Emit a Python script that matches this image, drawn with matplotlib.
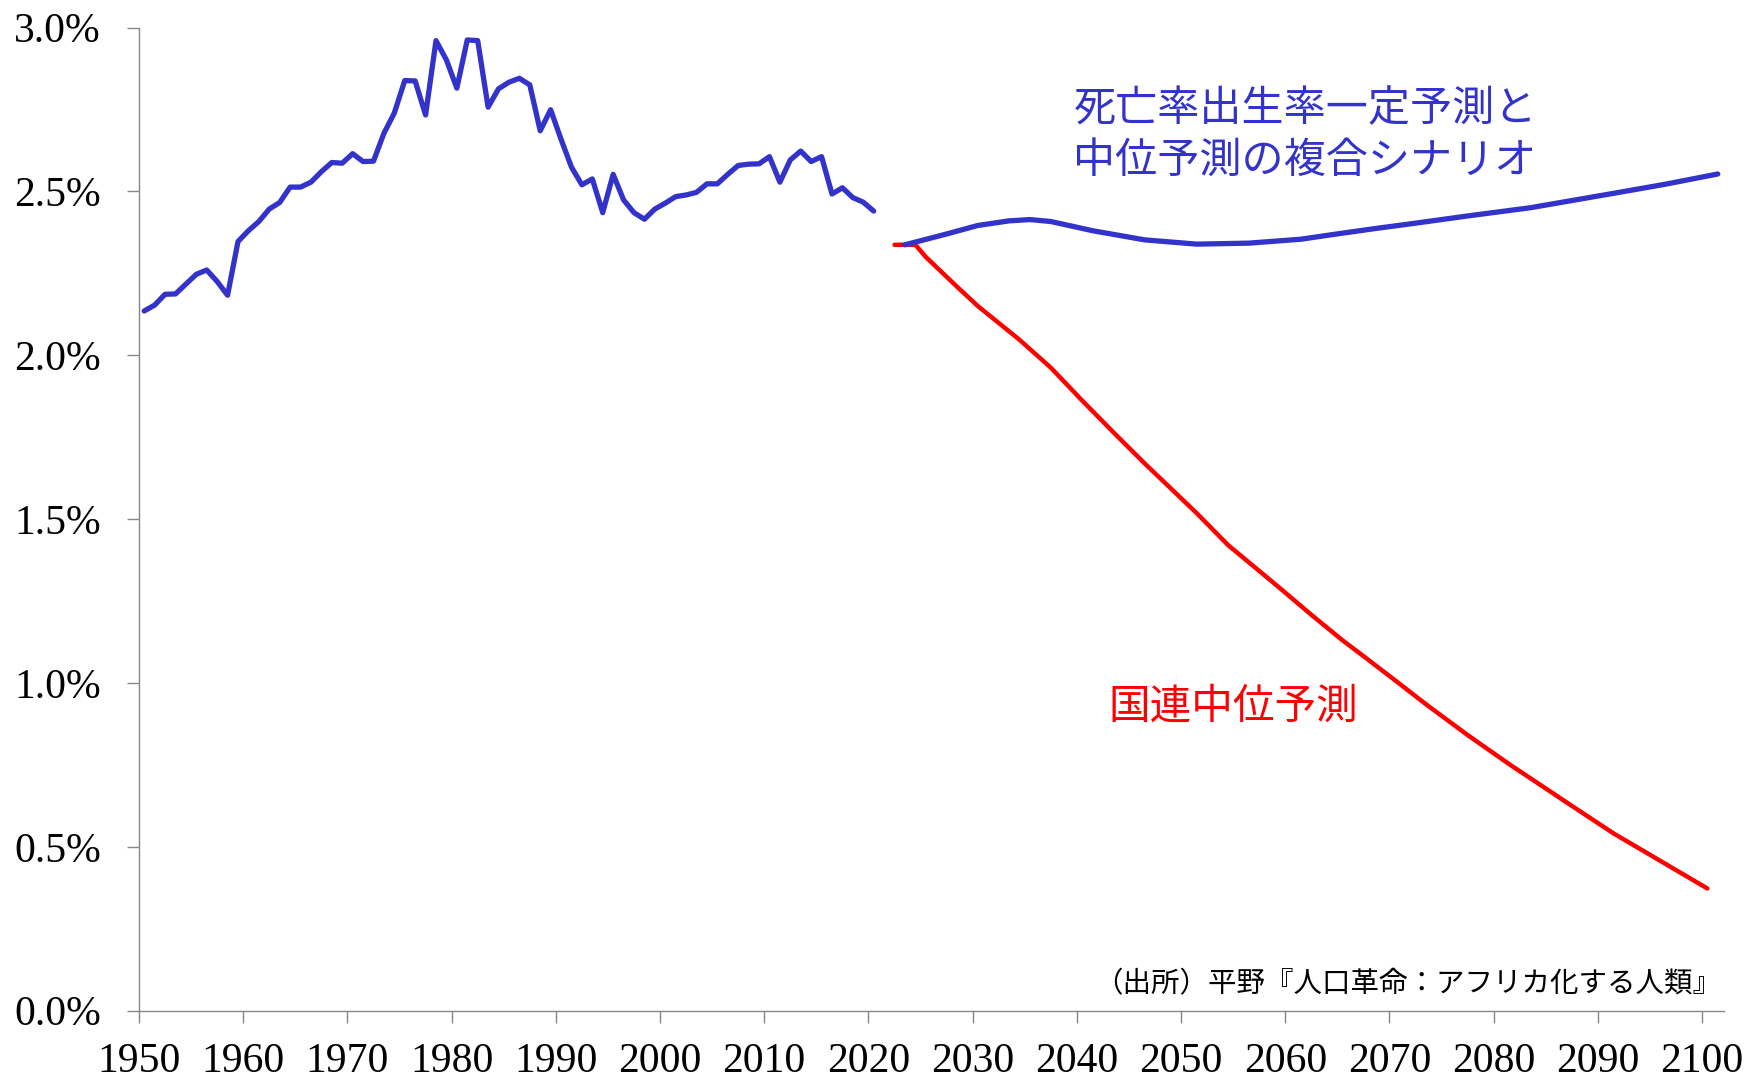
import numpy as np
import matplotlib
matplotlib.use("Agg")
from matplotlib import pyplot as plt

# historical growth rate (%), 1950-2020
hist_years = np.arange(1950, 2021)
hist_vals = [2.135, 2.153, 2.186, 2.187, 2.217, 2.247, 2.260, 2.225, 2.183, 2.347,
             2.380, 2.408, 2.446, 2.466, 2.513, 2.513, 2.528, 2.560, 2.588, 2.586,
             2.615, 2.591, 2.592, 2.677, 2.739, 2.838, 2.837, 2.733, 2.960, 2.901,
             2.815, 2.962, 2.960, 2.757, 2.813, 2.833, 2.845, 2.825, 2.685, 2.749,
             2.659, 2.574, 2.520, 2.538, 2.435, 2.552, 2.474, 2.435, 2.415, 2.446,
             2.464, 2.484, 2.489, 2.497, 2.523, 2.523, 2.552, 2.579, 2.583, 2.584,
             2.606, 2.528, 2.596, 2.623, 2.591, 2.606, 2.492, 2.511, 2.481, 2.467,
             2.440]

# combined scenario (blue)
mix_years = [2023, 2027, 2030, 2033, 2035, 2037, 2041, 2046, 2051, 2056, 2061,
             2064, 2068, 2072, 2077, 2083, 2087, 2091, 2096, 2101]
mix_vals = [2.337, 2.370, 2.396, 2.410, 2.414, 2.408, 2.380, 2.352, 2.339, 2.342,
            2.354, 2.368, 2.386, 2.403, 2.425, 2.450, 2.472, 2.494, 2.522, 2.553]

# UN medium variant (red)
un_years = [2022, 2024, 2025, 2028, 2030, 2034, 2037, 2040, 2043, 2046, 2051, 2054,
            2059, 2062, 2065, 2067, 2070, 2073, 2077, 2081, 2087, 2091, 2097, 2100]
un_vals = [2.337, 2.337, 2.300, 2.209, 2.150, 2.047, 1.962, 1.862, 1.765, 1.670,
           1.518, 1.421, 1.289, 1.208, 1.130, 1.082, 1.009, 0.935, 0.841, 0.752,
           0.625, 0.541, 0.429, 0.373]

tick_years = np.arange(1950, 2101, 10)
y_ticks = [0.0, 0.5, 1.0, 1.5, 2.0, 2.5, 3.0]

blue = '#3333CC'
red = '#FF0000'
jp = ['Noto Sans CJK JP', 'DejaVu Sans']
serif = 'Liberation Serif'

fig = plt.figure(figsize=(17.54, 10.78), dpi=100)
ax = fig.add_axes([139/1754, 67.3/1078, (1724-139)/1754, (1010.7-27.5)/1078])

ax.plot(un_years, un_vals, color=red, lw=3.2, solid_capstyle='round',
        solid_joinstyle='round', zorder=2)
ax.plot(hist_years, hist_vals, color=blue, lw=3.8, solid_capstyle='round',
        solid_joinstyle='round', zorder=3)
ax.plot(mix_years, mix_vals, color=blue, lw=3.8, solid_capstyle='round',
        solid_joinstyle='round', zorder=3)

ax.set_xlim(1949.5, 2101.6)
ax.set_ylim(0, 3.0)

# category-style axis: ticks sit half a year left of the data points
ax.set_xticks(tick_years - 0.5)
ax.set_xticklabels([str(y) for y in tick_years])
ax.set_yticks(y_ticks)
ax.set_yticklabels(['%.1f%%' % v for v in y_ticks])

for s in ['top', 'right']:
    ax.spines[s].set_visible(False)
for s in ['left', 'bottom']:
    ax.spines[s].set_color('#868686')
    ax.spines[s].set_linewidth(1.0)

ax.tick_params(axis='both', direction='out', length=8.6, width=1.0, color='#868686',
               labelsize=30, labelcolor='black')
ax.tick_params(axis='x', pad=14)
ax.tick_params(axis='y', pad=19)
for lab in ax.get_xticklabels() + ax.get_yticklabels():
    lab.set_family(serif)

ax.text(2061.4, 2.672, '死亡率出生率一定予測と\n中位予測の複合シナリオ', color=blue,
        fontsize=30.3, family=jp, ha='center', va='center', linespacing=1.2)
ax.text(2054.5, 0.927, '国連中位予測', color=red, fontsize=30, family=jp,
        ha='center', va='center')
ax.text(2101.3, 0.082, '（出所）平野『人口革命：アフリカ化する人類』', color='black',
        fontsize=20.5, family=jp, ha='right', va='center')

plt.savefig('out.png', dpi=100)
